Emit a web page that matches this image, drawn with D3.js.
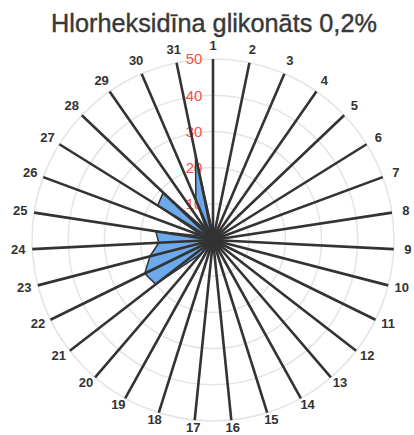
<!DOCTYPE html>
<html>
<head>
<meta charset="utf-8">
<script src="https://cdn.jsdelivr.net/npm/d3@7"></script>
<style>
  html, body { margin: 0; padding: 0; background: #fff; }
  svg { display: block; }
</style>
</head>
<body>
<svg id="chart" width="414" height="435"></svg>
<script>
const title = "Hlorheksidīna glikonāts 0,2%";
const categories = ["1","2","3","4","5","6","7","8","9","10","11","12","13","14","15","16","17","18","19","20","21","22","23","24","25","26","27","28","29","30","31"];
const values = [2,0,0,0,0,0,0,0,0,0,0,0,0,0,0,0,0,0,0,5,20,21,18,15,16,3,18,19,3,12,24];
const radialTicks = [10,20,30,40,50];

const svg = d3.select("#chart");
const cx = 213, cy = 240, R = 181;

const r = d3.scaleLinear().domain([0, 50]).range([0, R]);
const angle = d3.scalePoint().domain(categories).range([0, 2 * Math.PI * (categories.length - 1) / categories.length]);

// title
const t = svg.append("text")
  .attr("x", 214).attr("y", 32)
  .attr("text-anchor", "middle")
  .attr("font-family", "Liberation Sans, Arial, sans-serif")
  .attr("font-size", 26)
  .attr("fill", "#383838")
  .attr("stroke", "#383838")
  .attr("stroke-width", 0.4)
  .text(title);
const tw = t.node().getComputedTextLength();
t.attr("font-size", 26 * 326 / tw);

const g = svg.append("g").attr("transform", `translate(${cx},${cy})`);

// grid circles
g.selectAll("circle.grid").data(radialTicks).join("circle")
  .attr("class", "grid")
  .attr("r", d => r(d))
  .attr("fill", "none")
  .attr("stroke", "#e4e4e4")
  .attr("stroke-width", 1.5);

// radial tick labels
g.selectAll("text.tick").data(radialTicks).join("text")
  .attr("class", "tick")
  .attr("x", -19)
  .attr("y", d => -r(d))
  .attr("dy", "0.36em")
  .attr("text-anchor", "middle")
  .attr("font-family", "Liberation Sans, Arial, sans-serif")
  .attr("font-size", 15)
  .attr("fill", "#ff4b4b")
  .text(d => d);

// data polygon
const line = d3.lineRadial()
  .angle((d, i) => angle(categories[i]))
  .radius(d => r(d))
  .curve(d3.curveLinearClosed);

g.append("path")
  .datum(values)
  .attr("d", line)
  .attr("fill", "#5fa3ea")
  .attr("fill-opacity", 0.92)
  .attr("stroke", "#333")
  .attr("stroke-width", 1.5)
  .attr("stroke-linejoin", "miter");

// spokes
g.selectAll("line.spoke").data(categories).join("line")
  .attr("class", "spoke")
  .attr("x1", 0).attr("y1", 0)
  .attr("x2", d => r(50) * Math.sin(angle(d)))
  .attr("y2", d => -r(50) * Math.cos(angle(d)))
  .attr("stroke", "#333")
  .attr("stroke-width", 2.6);

// category labels
const LR = R + 14;
g.selectAll("text.cat").data(categories).join("text")
  .attr("class", "cat")
  .attr("x", d => LR * Math.sin(angle(d)))
  .attr("y", d => {
    const y = -LR * Math.cos(angle(d));
    return y > 0 ? y * 0.965 : y;
  })
  .attr("dy", "0.36em")
  .attr("text-anchor", "middle")
  .attr("font-family", "Liberation Sans, Arial, sans-serif")
  .attr("font-weight", "bold")
  .attr("font-size", 13)
  .attr("fill", "#333")
  .text(d => d);
</script>
</body>
</html>
